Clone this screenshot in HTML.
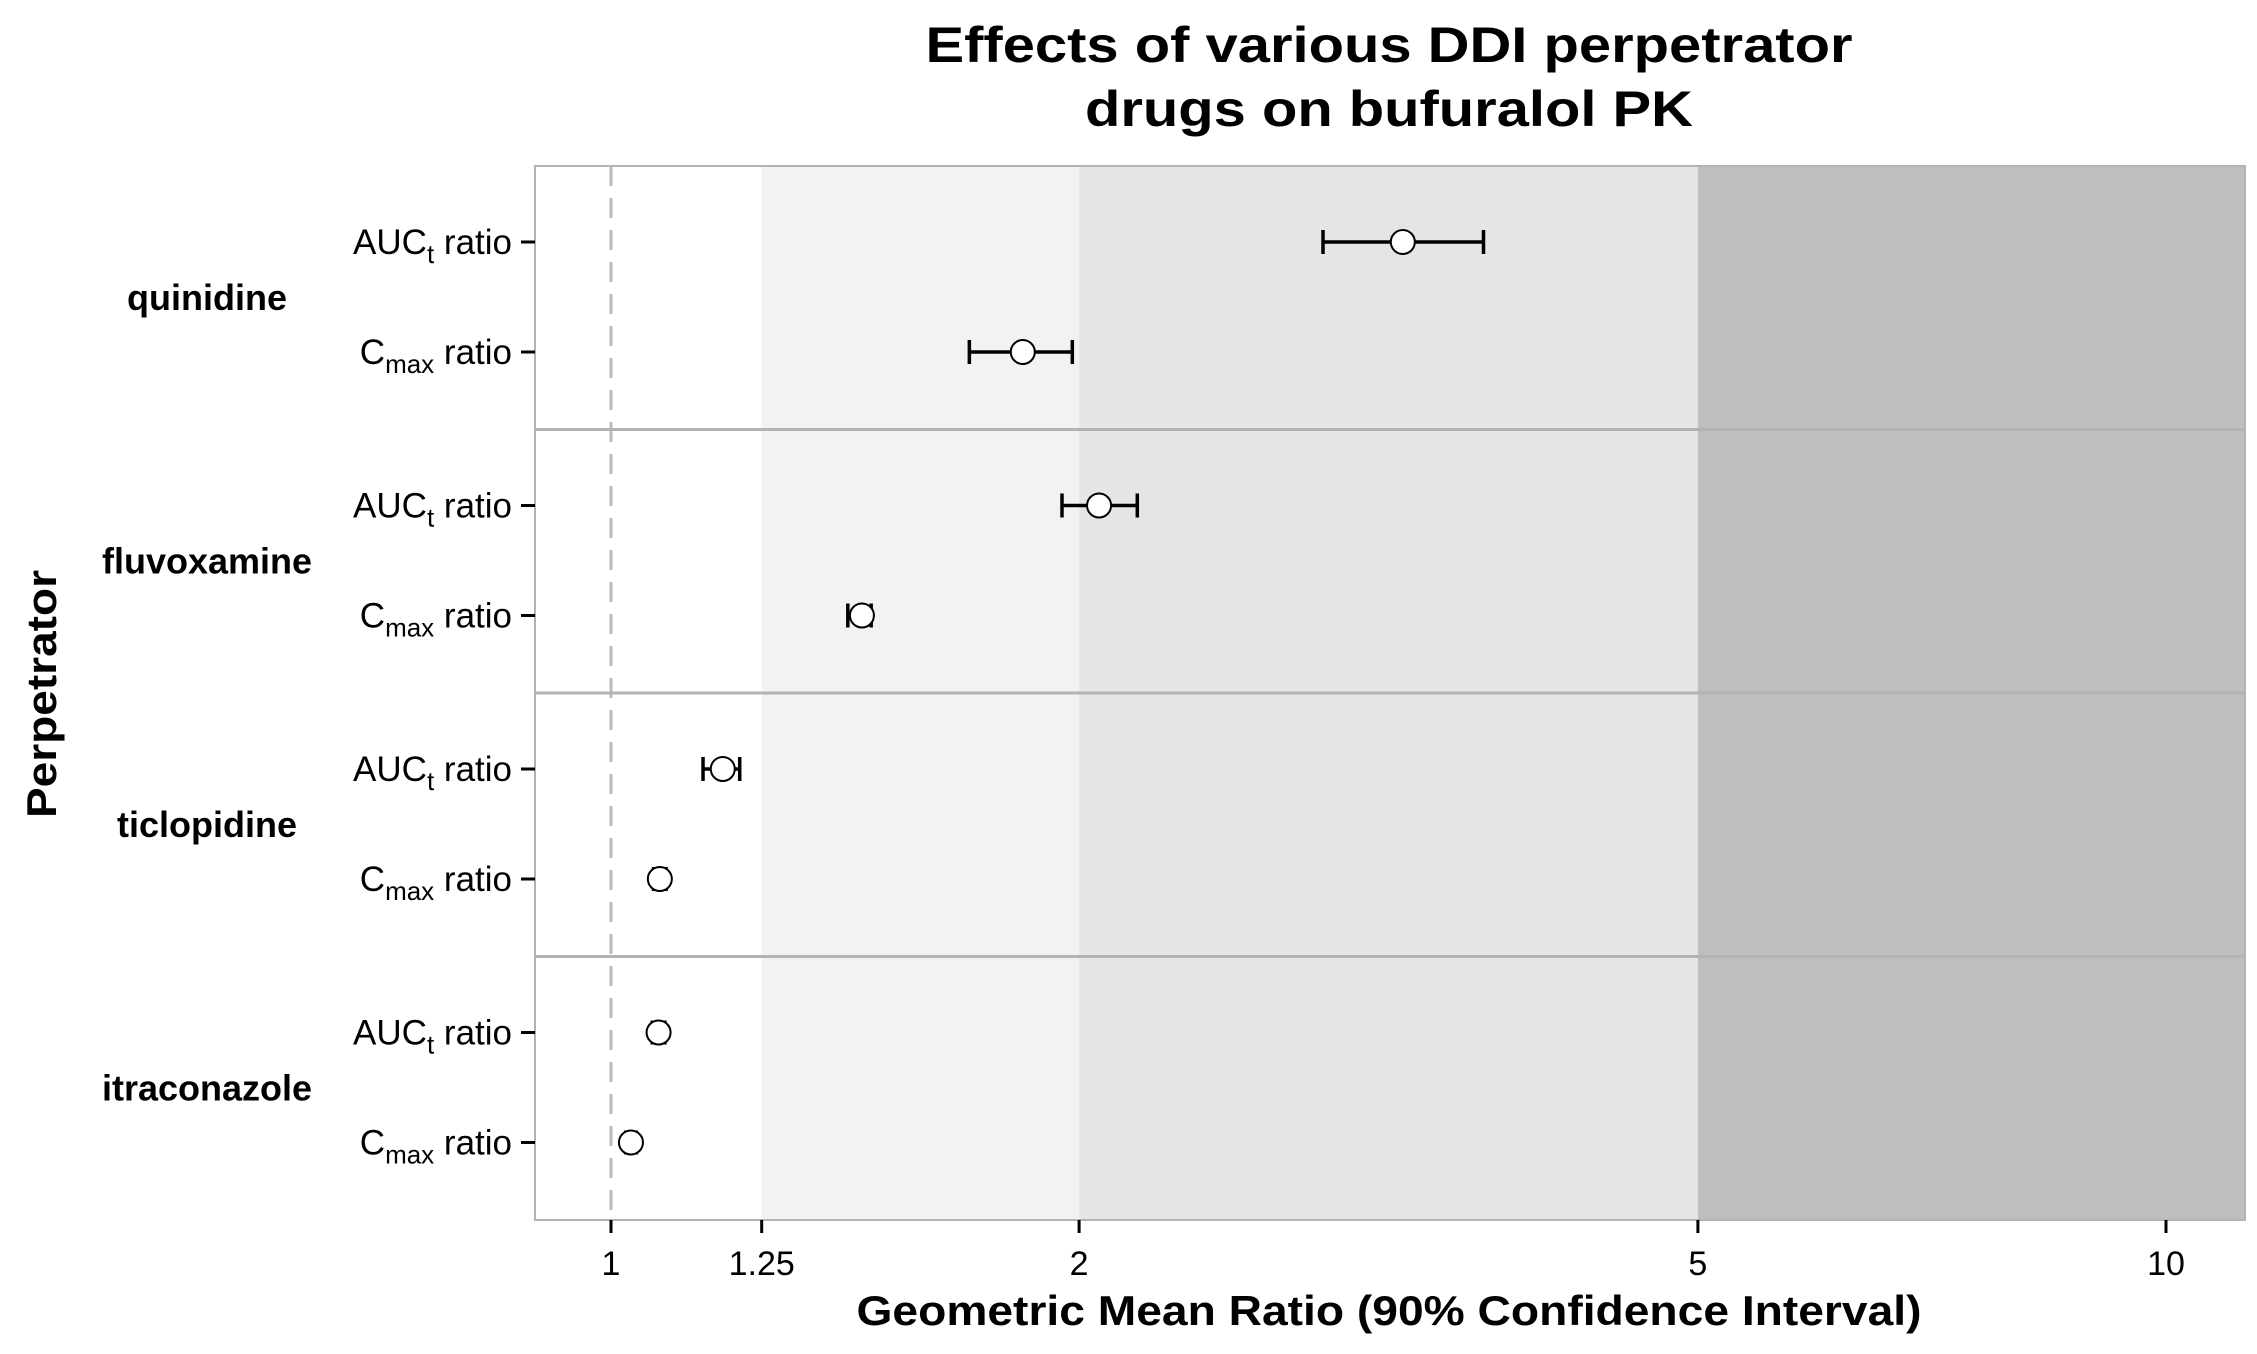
<!DOCTYPE html>
<html><head><meta charset="utf-8"><style>
html,body{margin:0;padding:0;background:#fff}
svg{display:block;font-family:"Liberation Sans",Arial,sans-serif}
</style></head><body>
<svg id="chart" width="2257" height="1354" viewBox="0 0 2257 1354" xmlns="http://www.w3.org/2000/svg">
<text x="1389" y="62" text-anchor="middle" font-weight="bold" font-size="50" textLength="927" lengthAdjust="spacingAndGlyphs">Effects of various DDI perpetrator</text>
<text x="1389" y="126" text-anchor="middle" font-weight="bold" font-size="50" textLength="608" lengthAdjust="spacingAndGlyphs">drugs on bufuralol PK</text>
<g id="bands"></g>
<g id="grid"></g>
<g id="marks"></g>
<g id="axes"></g>
<text x="1389" y="1325" text-anchor="middle" font-weight="bold" font-size="42" textLength="1065" lengthAdjust="spacingAndGlyphs">Geometric Mean Ratio (90% Confidence Interval)</text>
<text transform="translate(56,694) rotate(-90)" text-anchor="middle" font-weight="bold" font-size="42" textLength="248" lengthAdjust="spacingAndGlyphs">Perpetrator</text>
</svg>
<script>
const groups = ["quinidine","fluvoxamine","ticlopidine","itraconazole"];
const aucGmr = [3.23, 2.06, 1.18, 1.073];
const aucLo  = [2.87, 1.95, 1.146, 1.063];
const aucHi  = [3.64, 2.18, 1.21, 1.083];
const cmaxGmr = [1.84, 1.45, 1.075, 1.03];
const cmaxLo  = [1.70, 1.42, 1.065, 1.022];
const cmaxHi  = [1.98, 1.47, 1.085, 1.038];
const xTicks = [1, 1.25, 2, 5, 10];
const xTickLabels = ["1","1.25","2","5","10"];
const bandEdges = [1.25, 2, 5];
const bandColors = ["#ffffff","#f2f2f2","#e5e5e5","#bebebe"];

const NS="http://www.w3.org/2000/svg";
const L=535,R=2245,T=166,B=1220;
const x0=611, perDec=1555;
const xs=v=>x0+Math.log10(v)*perDec;
const gH=(B-T)/groups.length;
function mk(tag,attrs,parent){const e=document.createElementNS(NS,tag);for(const k in attrs)e.setAttribute(k,attrs[k]);parent.appendChild(e);return e;}
const bands=document.getElementById('bands'),grid=document.getElementById('grid'),marks=document.getElementById('marks'),axes=document.getElementById('axes');
const edges=[L,...bandEdges.map(xs),R];
for(let i=0;i<bandColors.length;i++){
  const r=mk('rect',{x:edges[i],y:T,width:edges[i+1]-edges[i],height:B-T,fill:bandColors[i]},bands);
  
  
}
const ref=mk('line',{x1:xs(1),x2:xs(1),y1:T,y2:B,stroke:'#bbbbbb','stroke-width':3,'stroke-dasharray':'20,12'},grid);


for(let g=1;g<groups.length;g++){
  const s=mk('line',{x1:L,x2:R,y1:T+g*gH,y2:T+g*gH,stroke:'#b3b3b3','stroke-width':3},grid);
  
  
}
const border=mk('rect',{x:L,y:T,width:R-L,height:B-T,fill:'none',stroke:'#b3b3b3','stroke-width':2},grid);


function row(y,gmr,lo,hi,name,labelMain,sub){
  const g=mk('g',{},marks);
  
  
  mk('line',{x1:xs(lo),x2:xs(hi),y1:y,y2:y,stroke:'#000','stroke-width':3.5},g);
  mk('line',{x1:xs(lo),x2:xs(lo),y1:y-12,y2:y+12,stroke:'#000','stroke-width':3.5},g);
  mk('line',{x1:xs(hi),x2:xs(hi),y1:y-12,y2:y+12,stroke:'#000','stroke-width':3.5},g);
  const c=mk('circle',{cx:xs(gmr),cy:y,r:12,fill:'#fff',stroke:'#000','stroke-width':2},g);
  
  
  mk('line',{x1:521,x2:L,y1:y,y2:y,stroke:'#000','stroke-width':3},axes);
  const t=mk('text',{x:512,y:y+12,'text-anchor':'end','font-size':35},axes);
  
  
  const a=document.createElementNS(NS,'tspan');a.textContent=labelMain;t.appendChild(a);
  const b=document.createElementNS(NS,'tspan');b.textContent=sub;b.setAttribute('font-size','26');b.setAttribute('dy','9');t.appendChild(b);
  const c2=document.createElementNS(NS,'tspan');c2.textContent=' ratio';c2.setAttribute('dy','-9');t.appendChild(c2);
}
groups.forEach((gname,i)=>{
  const top=T+i*gH;
  row(top+76,aucGmr[i],aucLo[i],aucHi[i],'row-'+gname+'-auc','AUC','t');
  row(top+186,cmaxGmr[i],cmaxLo[i],cmaxHi[i],'row-'+gname+'-cmax','C','max');
  const gl=mk('text',{x:207,y:top+gH/2+12,'text-anchor':'middle','font-weight':'bold','font-size':36},axes);
  gl.textContent=gname;
  
  
});
xTicks.forEach((v,i)=>{
  mk('line',{x1:xs(v),x2:xs(v),y1:B,y2:B+13,stroke:'#000','stroke-width':3},axes);
  const t=mk('text',{x:xs(v),y:1275,'text-anchor':'middle','font-size':34},axes);
  t.textContent=xTickLabels[i];
  
  
});
</script>
</body></html>
